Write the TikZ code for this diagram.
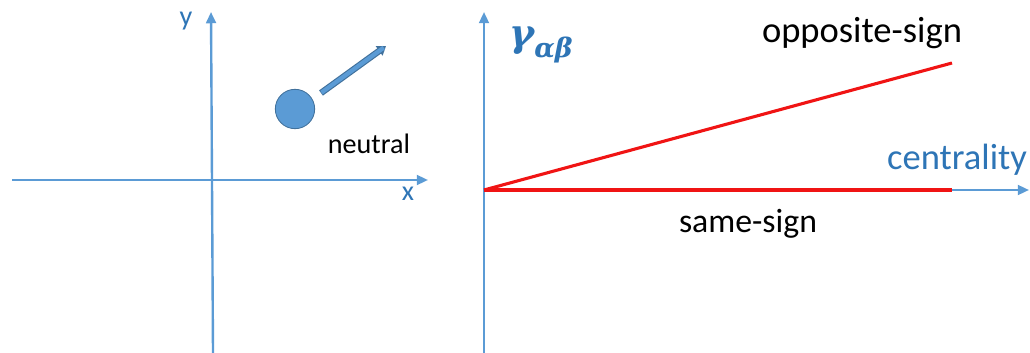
\documentclass[tikz,border=0pt]{standalone}
\usepackage{fontspec}
\setmainfont{Carlito}
\newfontfamily\grkfont{DejaVu Serif}
\usepackage{tikz}
\usetikzlibrary{arrows.meta,positioning}
\definecolor{axBlue}{RGB}{91,155,213}
\definecolor{txBlue}{RGB}{46,117,182}
\definecolor{ballEdge}{RGB}{65,113,156}
\definecolor{lineRed}{RGB}{240,20,20}

\begin{document}
\begin{tikzpicture}[x=0.025cm, y=-0.025cm, >={Triangle[length=8pt,width=7pt]},
  axis/.style={axBlue, line width=1.7pt, ->},
  redline/.style={lineRed, line width=2.2pt},
  lbl/.style={inner sep=0pt, font=\fontsize{20}{22}\selectfont}]
\useasboundingbox (0,0) rectangle (1030,353);
% left panel: plane with the neutral particle
\begin{scope}
  \coordinate (xl) at (12,180);
  \coordinate (xr) at (428,180);
  \coordinate (yb) at (213,353);
  \coordinate (yt) at (211,12);
  \draw[axis] (xl) -- (xr);
  \draw[axis] (yb) -- (yt);
  \node[lbl, txBlue] (ylab) at (186,21) {y};
  \node[lbl, txBlue] (xlab) at (408,194) {x};
  \node[circle, fill=axBlue, draw=ballEdge, line width=0.6pt,
        minimum size=28pt, inner sep=0pt] (ball) at (295,109) {};
  \coordinate (mom) at (386,46);
  \draw[ballEdge, line width=4.6pt, -{Triangle[length=6pt,width=8pt]}] (321,93) -- (mom);
  \draw[axBlue, line width=3pt, shorten >=2pt] (321.5,92.6) -- (mom);
  \node[lbl, text=black] (neutral) at (369,144) {neutral};
\end{scope}
% right panel: gamma versus centrality
\begin{scope}
  \coordinate (o) at (484,190);
  \coordinate (cr) at (1029,190);
  \coordinate (gt) at (484,12);
  \coordinate (gb) at (484,353);
  \coordinate (same) at (952,190);
  \coordinate (opp) at (952,63);
  \draw[axis] (gb) -- (gt);
  \draw[axis] (o) -- (cr);
  \draw[redline] (o) -- (same);
  \draw[redline] (o) -- (opp);
  \node[txBlue, inner sep=0pt, font=\grkfont\bfseries\itshape\fontsize{27}{29}\selectfont] (gamma) at (541,45)
    {γ\raisebox{-0.3em}{\fontsize{19}{21}\selectfont αβ}};
  \node[inner sep=0pt, font=\fontsize{26}{28}\selectfont, txBlue] (cent) at (957,160) {centrality};
  \node[inner sep=0pt, font=\fontsize{26}{28}\selectfont] (opplab) at (862,33) {opposite-sign};
  \node[inner sep=0pt, font=\fontsize{24}{26}\selectfont] (samelab) at (748,224) {same-sign};
\end{scope}
\end{tikzpicture}
\end{document}
